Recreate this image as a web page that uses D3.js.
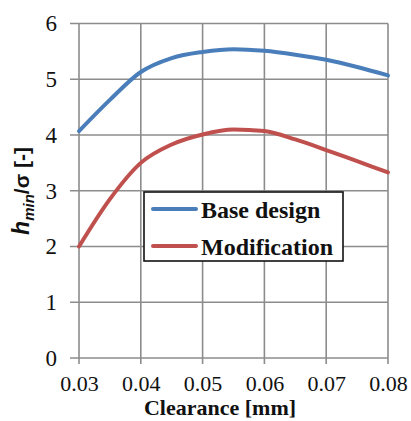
<!DOCTYPE html>
<html>
<head>
<meta charset="utf-8">
<script src="https://cdn.jsdelivr.net/npm/d3@7"></script>
<style>
  html, body { margin: 0; padding: 0; background: #fff; }
  svg { display: block; }
</style>
</head>
<body>
<svg id="chart" width="411" height="421"></svg>
<script>
// Clearance values [mm]
const clearance = [0.030, 0.035, 0.040, 0.045, 0.050, 0.055, 0.060, 0.065, 0.070, 0.075, 0.080];
// Dimensionless minimum film thickness h_min/sigma
const baseDesign   = [4.07, 4.63, 5.13, 5.38, 5.49, 5.54, 5.51, 5.44, 5.35, 5.22, 5.07];
const modification = [2.00, 2.85, 3.50, 3.83, 4.01, 4.10, 4.07, 3.92, 3.73, 3.53, 3.33];
const seriesNames  = ["Base design", "Modification"];
const seriesColors = ["#4a7ebb", "#c0504d"];
const xTicks = [0.03, 0.04, 0.05, 0.06, 0.07, 0.08];
const yTicks = [0, 1, 2, 3, 4, 5, 6];

const SERIF = "'Liberation Serif', 'Times New Roman', serif";
const SANS = "'Liberation Sans', Arial, sans-serif";

const svg = d3.select("#chart");
const m = { left: 79, right: 388, top: 23.5, bottom: 358 };

const x = d3.scaleLinear().domain([0.03, 0.08]).range([m.left, m.right]);
const y = d3.scaleLinear().domain([0, 6]).range([m.bottom, m.top]);

// Grid
const grid = svg.append("g").attr("stroke", "#8c8c8c").attr("stroke-width", 1.6);
grid.selectAll("line.h").data(yTicks).join("line")
  .attr("x1", m.left - 9).attr("x2", m.right)
  .attr("y1", d => y(d)).attr("y2", d => y(d));
grid.selectAll("line.v").data(xTicks).join("line")
  .attr("x1", d => x(d)).attr("x2", d => x(d))
  .attr("y1", m.top).attr("y2", m.bottom + 6);

// Axes (labels only; grid draws the rules)
const xAxis = svg.append("g").attr("transform", `translate(0,${m.bottom})`)
  .call(d3.axisBottom(x).tickValues(xTicks).tickFormat(d3.format(".2f")).tickSize(0).tickPadding(17));
xAxis.select(".domain").remove();
xAxis.selectAll("text")
  .style("font-family", SERIF).style("font-size", "22px").attr("fill", "#111");

const yAxis = svg.append("g").attr("transform", `translate(${m.left},0)`)
  .call(d3.axisLeft(y).tickValues(yTicks).tickFormat(d3.format("d")).tickSize(0).tickPadding(22));
yAxis.select(".domain").remove();
yAxis.selectAll("text")
  .style("font-family", SERIF).style("font-size", "23px").attr("fill", "#111");

// Lines
const line = d3.line().x(d => x(d[0])).y(d => y(d[1])).curve(d3.curveMonotoneX);
[baseDesign, modification].forEach((vals, i) => {
  svg.append("path")
    .datum(clearance.map((c, j) => [c, vals[j]]))
    .attr("fill", "none")
    .attr("stroke", seriesColors[i])
    .attr("stroke-width", 4)
    .attr("stroke-linecap", "round")
    .attr("stroke-linejoin", "round")
    .attr("d", line);
});

// Legend
const lg = svg.append("g");
lg.append("rect").attr("x", 144).attr("y", 192).attr("width", 199).attr("height", 69)
  .attr("fill", "#fff").attr("stroke", "#111").attr("stroke-width", 1.6);
seriesNames.forEach((name, i) => {
  const cy = 209 + i * 37;
  lg.append("line").attr("x1", 153).attr("x2", 196).attr("y1", cy).attr("y2", cy)
    .attr("stroke", seriesColors[i]).attr("stroke-width", 4).attr("stroke-linecap", "round");
  lg.append("text").attr("x", 201).attr("y", cy + 9).attr("fill", "#111")
    .style("font-family", SERIF).style("font-size", "24px").style("font-weight", "bold")
    .text(name);
});

// Axis titles
svg.append("text").attr("x", 220).attr("y", 415).attr("text-anchor", "middle").attr("fill", "#111")
  .style("font-family", SERIF).style("font-size", "22px").style("font-weight", "bold")
  .text("Clearance [mm]");

const yt = svg.append("text")
  .attr("transform", "translate(29,191) rotate(-90)")
  .attr("text-anchor", "middle").attr("fill", "#111")
  .style("font-family", SANS).style("font-weight", "bold");
yt.append("tspan").style("font-style", "italic").style("font-size", "23px").text("h");
yt.append("tspan").style("font-style", "italic").style("font-size", "15px").attr("dy", 5).text("min");
yt.append("tspan").style("font-size", "21px").attr("dy", -5).text("/σ [-]");
</script>
</body>
</html>
